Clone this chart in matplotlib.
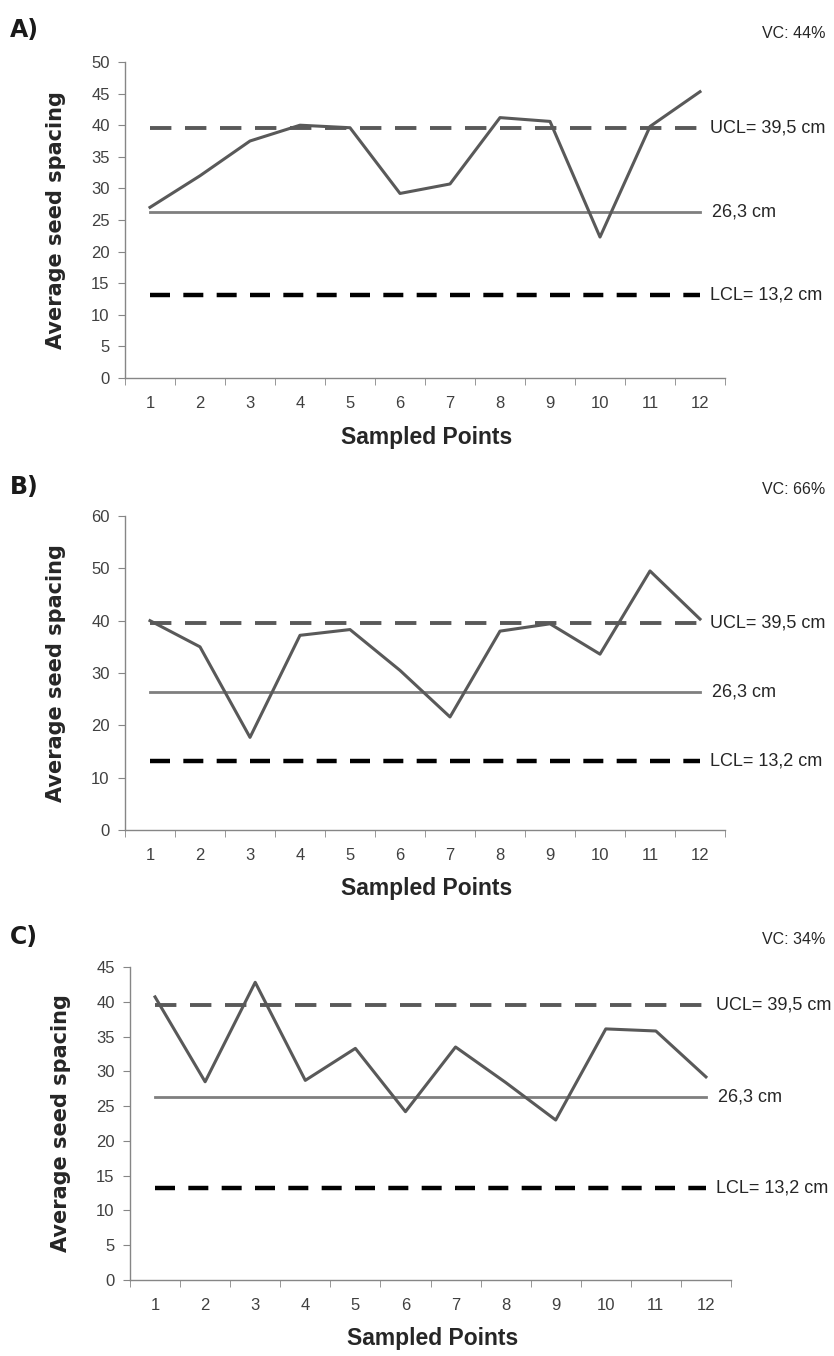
import numpy as np
import matplotlib.pyplot as plt
from matplotlib.ticker import MultipleLocator, FixedLocator

# Sampled points and average seed spacing (cm) for each panel
points = list(range(1, 13))
spacing_a = [27.0, 32.0, 37.5, 40.0, 39.6, 29.2, 30.7, 41.2, 40.6, 22.3, 39.8, 45.3]
spacing_b = [40.0, 35.0, 17.7, 37.2, 38.3, 30.5, 21.6, 38.0, 39.4, 33.6, 49.5, 40.3]
spacing_c = [40.7, 28.5, 42.8, 28.7, 33.3, 24.2, 33.5, 28.4, 23.0, 36.1, 35.8, 29.2]

panel_names = ['A)', 'B)', 'C)']
vc_labels = ['VC: 44%', 'VC: 66%', 'VC: 34%']
y_max = [50, 60, 45]
y_step = [5, 10, 5]

mean_cl = 26.3
ucl = 39.5
lcl = 13.2

narrow = 'Liberation Sans'

W, H = 834, 1356
fig = plt.figure(figsize=(W / 100, H / 100), dpi=100)

# axes boxes in pixels: left, top, right, bottom
boxes = [(125, 62, 725, 378), (125, 516, 725, 830), (130, 967, 731, 1280)]
title_y = [30, 487, 937]

for i, spacing in enumerate([spacing_a, spacing_b, spacing_c]):
    l, t, r, b = boxes[i]
    ax = fig.add_axes([l / W, 1 - b / H, (r - l) / W, (b - t) / H])

    ax.plot(points, spacing, color='#595959', lw=2.2, zorder=4)
    ax.plot([points[0], points[-1]], [mean_cl, mean_cl], color='#7f7f7f', lw=2.0, zorder=3)
    ax.plot([points[0], points[-1]], [ucl, ucl], color='#595959', lw=2.8,
            dashes=(5.5, 3.5), zorder=3)
    ax.plot([points[0], points[-1]], [lcl, lcl], color='black', lw=3.2,
            dashes=(4.5, 3.0), zorder=3)

    ax.text(12.2, ucl, 'UCL= 39,5 cm', va='center', ha='left', fontsize=13,
            family=narrow, color='#262626')
    ax.text(12.24, mean_cl, '26,3 cm', va='center', ha='left', fontsize=13,
            family=narrow, color='#262626')
    ax.text(12.2, lcl, 'LCL= 13,2 cm', va='center', ha='left', fontsize=13,
            family=narrow, color='#262626')

    ax.set_xlim(0.5, 12.5)
    ax.set_ylim(0, y_max[i])
    ax.yaxis.set_major_locator(MultipleLocator(y_step[i]))
    ax.set_xticks(points)
    ax.xaxis.set_minor_locator(FixedLocator(np.arange(0.5, 13, 1)))
    ax.tick_params(axis='x', which='major', length=0, pad=13)
    ax.tick_params(axis='x', which='minor', length=5, color='#868686', direction='out')
    ax.tick_params(axis='y', length=5, color='#868686', direction='out', pad=6)
    for lab in ax.get_xticklabels() + ax.get_yticklabels():
        lab.set_fontsize(12)
        lab.set_family(narrow)
        lab.set_color('#404040')

    for s in ['top', 'right']:
        ax.spines[s].set_visible(False)
    for s in ['left', 'bottom']:
        ax.spines[s].set_color('#868686')
        ax.spines[s].set_linewidth(1.0)

    ax.set_ylabel('Average seed spacing', fontsize=15, fontweight='bold',
                  color='#262626', va='center')
    ax.yaxis.set_label_coords(-0.115, 0.5)
    ax.set_xlabel('Sampled Points', fontsize=16.5, fontweight='bold',
                  family=narrow, color='#262626', va='center')
    ax.xaxis.set_label_coords(0.503, -0.187)

    fig.text(10 / W, 1 - title_y[i] / H, panel_names[i], fontsize=17,
             fontweight='bold', va='center', ha='left', color='#1a1a1a')
    fig.text(825 / W, 1 - (title_y[i] + 3) / H, vc_labels[i], fontsize=11.5,
             family=narrow, va='center', ha='right', color='#262626')

fig.savefig('out.png', dpi=100)
